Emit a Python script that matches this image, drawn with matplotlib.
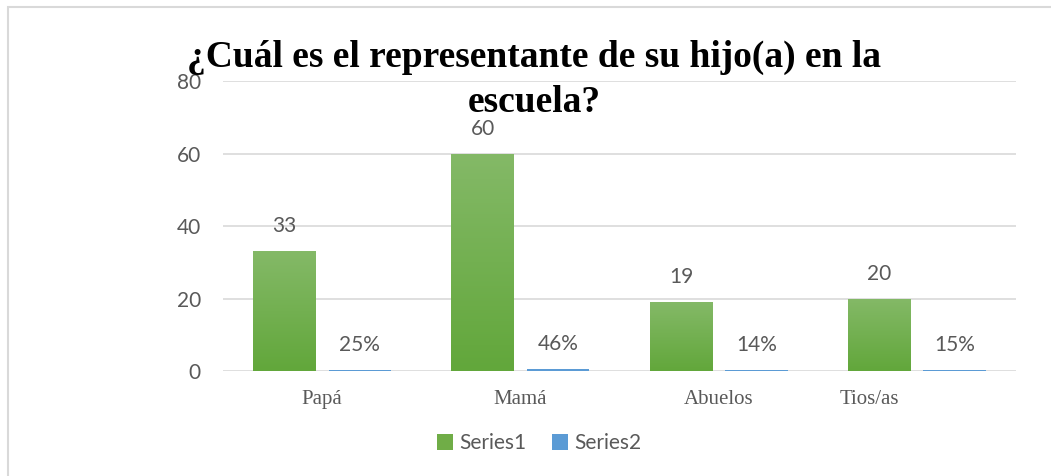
import matplotlib.pyplot as plt
import numpy as np
from matplotlib.patches import Rectangle
from matplotlib.transforms import ScaledTranslation
from matplotlib.colors import LinearSegmentedColormap

# datos del grafico
categorias = ['Papá', 'Mamá', 'Abuelos', 'Tios/as']
series1 = [33, 60, 19, 20]
series2 = [0.25, 0.46, 0.14, 0.15]
yticks = [0, 20, 40, 60, 80]
titulo = '¿Cuál es el representante de su hijo(a) en la\nescuela?'

verde = '#70AD47'
azul = '#5B9BD5'
gris = '#595959'
fuente = ['Lato', 'DejaVu Sans']
serif = ['Liberation Serif', 'DejaVu Serif']

fig = plt.figure(figsize=(10.51, 4.76), dpi=100)
ax = fig.add_axes([0.2122, 0.2206, 0.7545, 0.609])

x = np.arange(len(categorias))
ancho = 0.315
b1 = ax.bar(x - 0.19, series1, ancho, color=verde, label='Series1', zorder=3)
b2 = ax.bar(x + 0.19, series2, ancho, color=azul, label='Series2', zorder=3)

# degradado en las barras verdes
degradado = LinearSegmentedColormap.from_list('g', ['#62a73b', '#84b967'])
for barra in b1:
    x0, w, h = barra.get_x(), barra.get_width(), barra.get_height()
    im = ax.imshow(np.linspace(0, 1, 100).reshape(-1, 1), cmap=degradado, origin='lower',
                   extent=(x0, x0 + w, 0, h), aspect='auto', zorder=3.5)
    im.set_clip_path(barra)

# etiquetas de valores
for barra, v in zip(b1, series1):
    ax.annotate(str(v), (barra.get_x() + barra.get_width() / 2, barra.get_height()),
                xytext=(0, 18), textcoords='offset points', ha='center', va='center',
                fontsize=15, color=gris, family=fuente)
for barra, v in zip(b2, series2):
    ax.annotate('{:.0%}'.format(v), (barra.get_x() + barra.get_width() / 2, barra.get_height()),
                xytext=(0, 18), textcoords='offset points', ha='center', va='center',
                fontsize=15, color=gris, family=fuente)

ax.set_xlim(-0.5, 3.5)
ax.set_ylim(0, 80)
ax.set_yticks(yticks)
ax.set_xticks(x)
ax.set_xticklabels(categorias, family=serif, fontsize=15, color=gris)
for lab in ax.get_yticklabels():
    lab.set_family(fuente)
    lab.set_fontsize(15)
    lab.set_color(gris)
ax.tick_params(axis='both', length=0)
ax.tick_params(axis='y', pad=16)
ax.tick_params(axis='x', pad=14)
ax.grid(axis='y', color='#d9d9d9', lw=1.2, zorder=0)
for s in ax.spines.values():
    s.set_visible(False)

# la etiqueta de Tios/as esta corrida a la izquierda
ultima = ax.get_xticklabels()[-1]
ultima.set_transform(ultima.get_transform() + ScaledTranslation(-0.48, 0, fig.dpi_scale_trans))

fig.text(0.508, 0.832, titulo, ha='center', va='center', family=serif,
         fontweight='bold', fontsize=27, color='black', linespacing=1.4)

ax.legend(loc='center', bbox_to_anchor=(0.513, 0.069), bbox_transform=fig.transFigure,
          ncol=2, frameon=False, handlelength=0.8, handleheight=0.8, handletextpad=0.3,
          columnspacing=1.2, prop={'family': fuente, 'size': 15}, labelcolor=gris)

# borde del grafico
fig.patches.append(Rectangle((8 / 1051, -0.01), 1.05, 0.995, transform=fig.transFigure,
                             fill=False, edgecolor='#d9d9d9', lw=1.5))

fig.savefig('out.png', dpi=100)
